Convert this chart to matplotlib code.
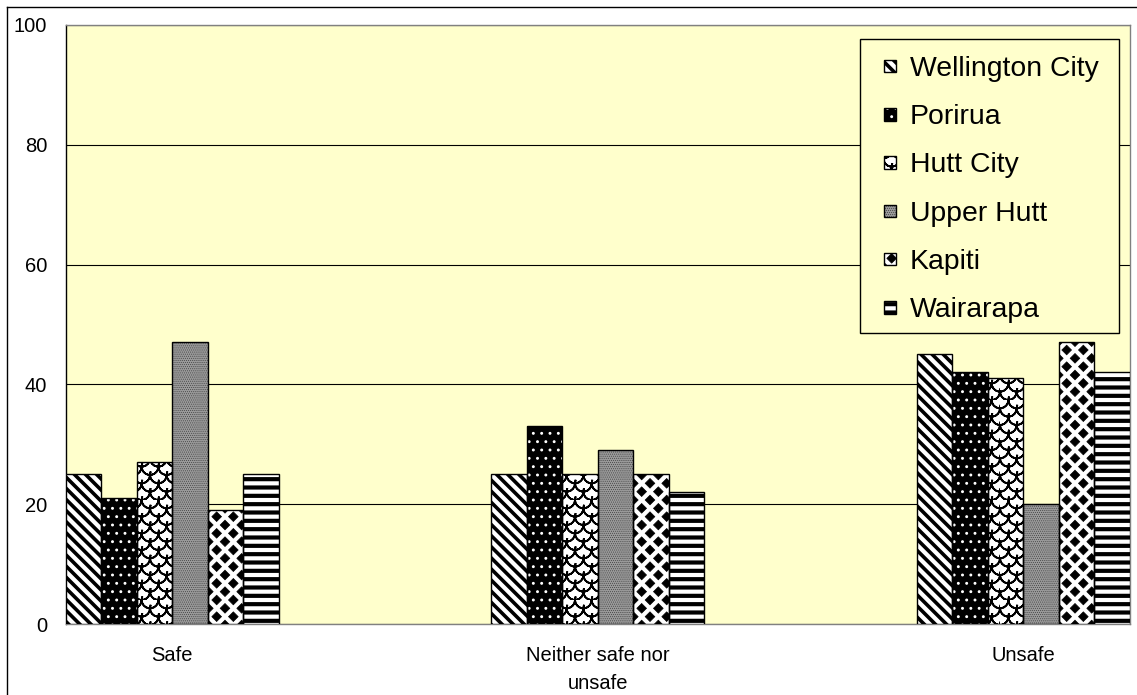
import numpy as np
import matplotlib
matplotlib.use("Agg")
import matplotlib.pyplot as plt
import matplotlib.hatch as mhatch
from matplotlib.path import Path
from matplotlib.lines import Line2D
from matplotlib.patches import Rectangle
from matplotlib.legend_handler import HandlerBase

# ---- data -------------------------------------------------------------
categories = ["Safe", "Neither safe nor\nunsafe", "Unsafe"]
series_names = ["Wellington City", "Porirua", "Hutt City",
                "Upper Hutt", "Kapiti", "Wairarapa"]
wellington_city = [25, 25, 45]
porirua = [21, 33, 42]
hutt_city = [27, 25, 41]
upper_hutt = [47, 29, 20]
kapiti = [19, 25, 47]
wairarapa = [25, 22, 42]
y_ticks = [0, 20, 40, 60, 80, 100]

series_values = [wellington_city, porirua, hutt_city,
                 upper_hutt, kapiti, wairarapa]


# ---- extra hatch patterns ---------------------------------------------
class DiamondGrid(mhatch.HatchPatternBase):
    """Solid diamonds on a staggered grid (hatch character '*')."""

    def __init__(self, hatch, density):
        n = int(hatch.count("*") * density)
        verts, codes = [], []
        if n > 0:
            step = 1.0 / n
            half = 0.29 * step
            shape = np.array([[0, half], [-half, 0], [0, -half],
                              [half, 0], [0, half]])
            shape_codes = [Path.MOVETO, Path.LINETO, Path.LINETO,
                           Path.LINETO, Path.CLOSEPOLY]
            for r, y in enumerate(np.linspace(0, 1, 2 * n + 1)):
                if r % 2 == 0:
                    xs = np.linspace(0, 1, n + 1)
                else:
                    xs = np.linspace(step / 2, 1 - step / 2, n)
                for x in xs:
                    verts.append(shape + [x, y])
                    codes.extend(shape_codes)
        self._verts = np.concatenate(verts) if verts else np.empty((0, 2))
        self._codes = np.array(codes, dtype=Path.code_type)
        self.num_vertices = len(self._verts)

    def set_vertices_and_codes(self, vertices, codes):
        vertices[:] = self._verts
        codes[:] = self._codes


class Scales(mhatch.HatchPatternBase):
    """Overlapping fish-scale arcs (hatch character 'O')."""

    def __init__(self, hatch, density):
        n = int(hatch.count("O") * density)
        verts, codes = [], []
        if n > 0:
            step = 1.0 / n
            radius = step / 2
            theta = np.linspace(np.pi, 2 * np.pi, 10)
            arc = np.column_stack([radius * np.cos(theta),
                                   radius * np.sin(theta)])
            # out along the arc and back again: zero area, stroke only
            stroke = np.concatenate([arc, arc[::-1][1:]])
            stroke_codes = [Path.MOVETO] + [Path.LINETO] * (len(stroke) - 1)
            for r, y in enumerate(np.linspace(0, 1, 2 * n + 1)):
                if r % 2 == 0:
                    xs = np.linspace(0, 1, n + 1)
                else:
                    xs = np.linspace(step / 2, 1 - step / 2, n)
                for x in xs:
                    verts.append(stroke + [x, y])
                    codes.extend(stroke_codes)
        self._verts = np.concatenate(verts) if verts else np.empty((0, 2))
        self._codes = np.array(codes, dtype=Path.code_type)
        self.num_vertices = len(self._verts)

    def set_vertices_and_codes(self, vertices, codes):
        vertices[:] = self._verts
        codes[:] = self._codes


mhatch._hatch_types = [t for t in mhatch._hatch_types
                       if t not in (mhatch.Stars, mhatch.LargeCircles)]
mhatch._hatch_types += [DiamondGrid, Scales]


class SwatchHandler(HandlerBase):
    """Small square legend key: patterned fill plus black outline."""

    def __init__(self, size=0.42, **kw):
        super().__init__(**kw)
        self.size = size

    def create_artists(self, legend, orig_handle, xdescent, ydescent,
                       width, height, fontsize, trans):
        fill, _ = orig_handle
        s = self.size * fontsize
        x0 = -xdescent + (width - s) / 2
        y0 = -ydescent + (height - s) / 2
        face = Rectangle((x0, y0), s, s, facecolor=fill.get_facecolor(),
                         edgecolor=fill.get_edgecolor(), linewidth=0,
                         hatch=fill.get_hatch(), transform=trans)
        if hasattr(face, "set_hatch_linewidth"):
            face.set_hatch_linewidth(fill.get_hatch_linewidth())
        edge = Rectangle((x0, y0), s, s, facecolor="none",
                         edgecolor="black", linewidth=1.0, transform=trans)
        return [face, edge]


# ---- styling ------------------------------------------------------------
plt.rcParams["font.family"] = ["Liberation Sans", "DejaVu Sans"]
plot_bg = "#FFFFCC"

bar_styles = [
    dict(face="white", hatch_color="black", hatch="\\\\\\", hlw=2.6),
    dict(face="black", hatch_color="white", hatch="..", hlw=0.9),
    dict(face="white", hatch_color="black", hatch="O", hlw=1.3),
    dict(face="#9a9a9a", hatch_color="#3c3c3c", hatch="........", hlw=0.4),
    dict(face="white", hatch_color="black", hatch="*", hlw=0.5),
    dict(face="white", hatch_color="black", hatch="--", hlw=3.0),
]

W, H = 1137, 695
fig = plt.figure(figsize=(W / 100, H / 100), dpi=100)
fig.patch.set_facecolor("white")

ax_left, ax_right, ax_top, ax_bottom = 66, 1129.5, 25, 624
ax = fig.add_axes([ax_left / W, 1 - ax_bottom / H,
                   (ax_right - ax_left) / W, (ax_bottom - ax_top) / H])
ax.set_facecolor(plot_bg)

x = np.arange(len(categories))
n_series = len(series_names)
bar_w = 0.5 / n_series

handles = []
for i, (vals, st) in enumerate(zip(series_values, bar_styles)):
    pos = x + (i - (n_series - 1) / 2) * bar_w
    fill = ax.bar(pos, vals, bar_w, color=st["face"],
                  edgecolor=st["hatch_color"], linewidth=0,
                  hatch=st["hatch"], zorder=3)
    outline = ax.bar(pos, vals, bar_w, facecolor="none",
                     edgecolor="black", linewidth=1.0, zorder=4)
    for p in fill.patches:
        if hasattr(p, "set_hatch_linewidth"):
            p.set_hatch_linewidth(st["hlw"])
    handles.append((fill.patches[0], outline.patches[0]))

ax.set_xlim(-0.25, len(categories) - 0.75)
ax.set_ylim(0, 100)
ax.set_yticks(y_ticks)
ax.set_yticklabels([str(v) for v in y_ticks])
ax.set_xticks(x)
ax.set_xticklabels(categories)
ax.tick_params(axis="both", length=0, labelsize=14.5, colors="black")
ax.tick_params(axis="y", pad=13.5)
ax.tick_params(axis="x", pad=16)
for lbl in ax.get_xticklabels():
    lbl.set_linespacing(1.6)

ax.yaxis.grid(True, color="black", linewidth=0.8, zorder=1)
ax.set_axisbelow(True)
for name, sp in ax.spines.items():
    sp.set_color("#808080")
    sp.set_linewidth(1.0)
ax.spines["left"].set_color("black")

# legend box
ax_w, ax_h = ax_right - ax_left, ax_bottom - ax_top
box_l, box_r, box_t, box_b = 860, 1119, 39, 333
ax.add_patch(Rectangle(((box_l - ax_left) / ax_w, (ax_bottom - box_b) / ax_h),
                       (box_r - box_l) / ax_w, (box_b - box_t) / ax_h,
                       transform=ax.transAxes, facecolor=plot_bg,
                       edgecolor="black", linewidth=1.0, zorder=9))

leg = ax.legend(handles, series_names, loc="upper left",
                bbox_to_anchor=((884 - ax_left) / ax_w,
                                (ax_bottom - 56) / ax_h),
                borderaxespad=0, borderpad=0, fontsize=20.4,
                frameon=False, handlelength=0.42, handleheight=0.7,
                handletextpad=0.49, labelspacing=0.785,
                handler_map={tuple: SwatchHandler(size=0.44)})
leg.set_zorder(10)

# outer chart frame
fig.add_artist(Line2D([7 / W, 1], [1 - 7 / H, 1 - 7 / H],
                      transform=fig.transFigure, color="black", linewidth=1))
fig.add_artist(Line2D([7 / W, 7 / W], [0, 1 - 7 / H],
                      transform=fig.transFigure, color="black", linewidth=1))

fig.savefig("out.png", dpi=100, facecolor="white")
